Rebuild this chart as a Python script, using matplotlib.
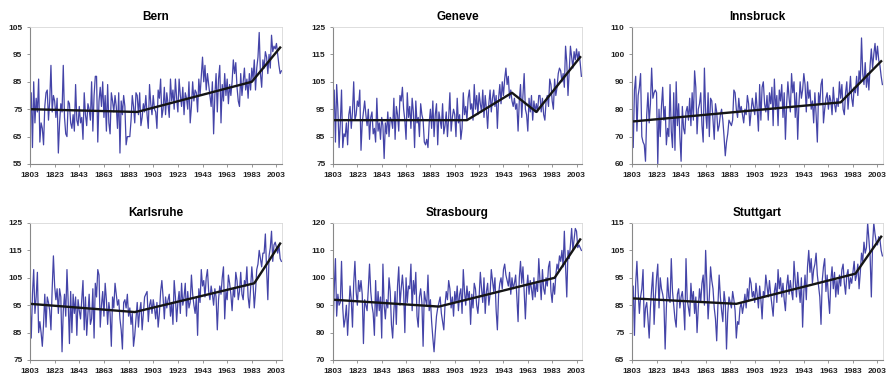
import numpy as np
import matplotlib.pyplot as plt

plt.rcParams['font.family'] = ['Liberation Sans', 'DejaVu Sans']

years = np.arange(1803, 2008)

# annual values, 1803-2007
bern = [75, 81, 61, 85, 70, 79, 74, 86, 63, 70,
        68, 62, 76, 81, 82, 71, 78, 91, 74, 80,
        78, 72, 79, 59, 70, 77, 74, 91, 72, 66,
        65, 78, 77, 70, 68, 73, 67, 84, 71, 69,
        76, 70, 72, 64, 81, 73, 69, 77, 75, 71,
        85, 67, 80, 87, 87, 63, 78, 83, 76, 85,
        72, 80, 67, 84, 70, 66, 81, 78, 74, 80,
        76, 68, 81, 59, 78, 73, 80, 76, 62, 65,
        65, 65, 71, 80, 76, 70, 81, 80, 73, 81,
        69, 72, 77, 74, 80, 73, 68, 84, 77, 73,
        80, 75, 74, 68, 82, 79, 86, 72, 75, 83,
        73, 81, 77, 72, 86, 78, 82, 75, 86, 79,
        74, 86, 80, 76, 83, 73, 81, 79, 75, 85,
        70, 76, 85, 78, 82, 81, 74, 86, 80, 87,
        94, 85, 91, 82, 88, 84, 80, 76, 85, 66,
        80, 88, 74, 86, 91, 70, 84, 78, 88, 80,
        86, 77, 84, 80, 85, 93, 88, 92, 83, 78,
        76, 88, 80, 85, 90, 82, 86, 79, 88, 82,
        90, 86, 93, 82, 90, 94, 103, 88, 83, 93,
        90, 96, 94, 88, 95, 90, 102, 96, 98, 97,
        99, 95, 91, 88, 89]

geneve = [92, 102, 83, 104, 95, 81, 90, 102, 81, 86,
          85, 90, 82, 93, 96, 88, 94, 105, 91, 93,
          98, 96, 102, 80, 90, 94, 98, 93, 89, 95,
          84, 92, 94, 86, 88, 83, 99, 87, 90, 84,
          92, 89, 77, 90, 86, 94, 85, 92, 91, 88,
          99, 84, 96, 93, 87, 100, 98, 103, 95, 91,
          84, 101, 92, 96, 88, 99, 94, 81, 98, 90,
          92, 85, 97, 93, 91, 83, 82, 84, 81, 90,
          95, 88, 98, 85, 93, 97, 82, 94, 91, 88,
          97, 86, 89, 94, 85, 92, 101, 87, 92, 95,
          93, 85, 99, 90, 93, 84, 88, 101, 93, 96,
          91, 99, 102, 95, 97, 91, 104, 95, 100, 93,
          101, 97, 94, 102, 92, 100, 95, 88, 97, 102,
          94, 99, 102, 96, 100, 88, 99, 104, 97, 105,
          100, 106, 110, 104, 107, 99, 102, 98, 96, 99,
          95, 97, 87, 98, 104, 92, 100, 108, 95, 93,
          87, 99, 94, 100, 91, 98, 94, 97, 94, 100,
          100, 94, 99, 93, 91, 98, 100, 96, 106, 104,
          98, 95, 106, 100, 103, 108, 110, 109, 105, 108,
          103, 118, 112, 100, 109, 118, 114, 110, 116, 113,
          117, 113, 116, 112, 107]

innsbruck = [80, 66, 87, 92, 72, 85, 88, 93, 70, 68,
             67, 61, 78, 86, 75, 82, 95, 84, 86, 87,
             86, 60, 80, 70, 81, 88, 76, 81, 67, 73,
             70, 89, 72, 66, 86, 65, 90, 74, 82, 70,
             61, 81, 73, 71, 79, 81, 76, 84, 74, 86,
             76, 94, 88, 71, 80, 82, 86, 74, 68, 95,
             79, 73, 86, 70, 84, 83, 76, 69, 82, 79,
             72, 74, 78, 80, 76, 70, 63, 68, 71, 76,
             75, 74, 76, 87, 86, 80, 77, 84, 79, 81,
             78, 75, 80, 78, 85, 82, 74, 79, 84, 81,
             78, 86, 80, 72, 89, 76, 88, 90, 82, 79,
             85, 76, 86, 82, 88, 74, 91, 80, 85, 74,
             87, 83, 89, 77, 86, 69, 82, 90, 84, 79,
             93, 86, 90, 77, 86, 69, 82, 90, 84, 87,
             93, 89, 79, 90, 84, 87, 80, 83, 75, 86,
             78, 68, 86, 82, 89, 91, 75, 80, 84, 86,
             80, 85, 83, 78, 88, 82, 79, 84, 81, 90,
             84, 89, 80, 78, 86, 90, 80, 86, 92, 84,
             81, 88, 86, 92, 85, 94, 90, 106, 93, 89,
             97, 88, 93, 87, 96, 102, 95, 100, 104, 98,
             103, 98, 96, 92, 89]

karlsruhe = [96, 83, 99, 108, 92, 98, 107, 85, 89, 85,
             80, 88, 99, 87, 98, 96, 93, 86, 101, 113,
             102, 97, 101, 92, 101, 98, 78, 93, 99, 91,
             108, 96, 81, 100, 85, 99, 92, 98, 84, 97,
             93, 90, 97, 104, 86, 98, 84, 92, 99, 88,
             90, 101, 83, 103, 98, 108, 106, 87, 95, 100,
             91, 103, 97, 88, 96, 92, 80, 98, 94, 103,
             99, 95, 97, 90, 86, 79, 96, 97, 94, 99,
             91, 94, 88, 92, 80, 84, 90, 96, 87, 93,
             96, 86, 92, 98, 99, 100, 89, 95, 97, 92,
             97, 94, 90, 96, 87, 92, 100, 104, 98, 90,
             98, 94, 97, 99, 91, 96, 88, 104, 98, 89,
             96, 100, 92, 103, 95, 98, 103, 91, 100, 94,
             96, 106, 99, 95, 92, 98, 84, 101, 96, 108,
             102, 104, 98, 105, 108, 100, 97, 102, 99, 95,
             101, 98, 86, 97, 102, 99, 105, 109, 90, 100,
             97, 106, 103, 99, 93, 101, 98, 107, 104, 97,
             100, 107, 99, 97, 104, 102, 109, 98, 94, 101,
             109, 103, 94, 100, 108, 110, 115, 112, 109, 114,
             114, 121, 108, 97, 113, 116, 122, 111, 117, 118,
             116, 114, 117, 112, 111]

strasbourg = [80, 96, 107, 86, 94, 90, 91, 106, 89, 82,
              85, 90, 79, 88, 97, 92, 82, 98, 106, 95,
              90, 99, 95, 99, 94, 76, 92, 90, 88, 96,
              105, 95, 90, 87, 79, 99, 86, 95, 88, 93,
              78, 105, 90, 85, 92, 89, 100, 95, 83, 78,
              88, 95, 83, 97, 104, 90, 96, 101, 95, 80,
              100, 91, 97, 96, 105, 88, 99, 94, 102, 86,
              82, 93, 96, 91, 75, 95, 92, 90, 101, 88,
              92, 84, 78, 73, 80, 86, 89, 91, 93, 87,
              84, 81, 90, 95, 92, 99, 96, 89, 93, 86,
              95, 91, 97, 88, 94, 96, 87, 103, 95, 90,
              97, 92, 95, 83, 94, 89, 98, 96, 90, 87,
              93, 102, 96, 91, 100, 87, 95, 98, 90, 94,
              103, 99, 95, 100, 88, 81, 94, 98, 100, 96,
              103, 105, 101, 99, 97, 102, 94, 100, 96, 98,
              101, 93, 84, 100, 106, 98, 104, 95, 85, 96,
              101, 94, 99, 96, 92, 100, 93, 98, 95, 107,
              99, 92, 103, 96, 94, 100, 97, 104, 106, 95,
              91, 98, 94, 101, 105, 103, 108, 106, 110, 104,
              117, 104, 93, 110, 107, 112, 118, 110, 114, 118,
              117, 111, 112, 111, 110]

stuttgart = [87, 92, 74, 93, 101, 90, 82, 88, 91, 98,
             77, 84, 86, 80, 73, 84, 91, 97, 78, 88,
             95, 100, 84, 95, 91, 89, 86, 69, 84, 95,
             88, 86, 102, 90, 85, 80, 77, 89, 91, 84,
             88, 90, 85, 76, 102, 87, 84, 81, 93, 86,
             90, 82, 88, 75, 84, 91, 86, 93, 96, 85,
             105, 92, 80, 88, 99, 94, 91, 84, 80, 72,
             85, 96, 88, 83, 79, 90, 86, 69, 82, 88,
             86, 84, 90, 87, 83, 73, 79, 78, 84, 86,
             82, 85, 89, 84, 91, 87, 95, 93, 88, 90,
             86, 93, 89, 84, 92, 87, 80, 90, 88, 96,
             92, 88, 94, 89, 85, 81, 90, 93, 86, 98,
             91, 95, 88, 93, 87, 83, 92, 96, 89, 94,
             90, 87, 101, 94, 88, 97, 91, 86, 95, 77,
             90, 96, 87, 99, 105, 97, 102, 93, 98, 100,
             104, 96, 92, 88, 78, 94, 99, 102, 90, 96,
             88, 82, 94, 99, 91, 97, 88, 94, 89, 96,
             92, 98, 100, 93, 89, 96, 98, 91, 95, 93,
             97, 101, 94, 96, 100, 91, 97, 104, 101, 108,
             104, 106, 115, 109, 103, 88, 107, 115, 111, 108,
             107, 110, 109, 105, 103]

# piecewise trend lines (break years and values)
bern_trend = ([1803, 1890, 1983, 2006], [75, 74, 85, 97.5])
geneve_trend = ([1803, 1913, 1950, 1970, 2006], [91, 91, 101, 94, 114])
innsbruck_trend = ([1803, 1973, 2006], [75.5, 82.5, 97.5])
karlsruhe_trend = ([1803, 1888, 1985, 2006], [95.5, 92.5, 103, 117.5])
strasbourg_trend = ([1803, 1890, 1985, 2006], [92, 89.5, 100, 114])
stuttgart_trend = ([1803, 1888, 1985, 2006], [87.5, 85.5, 96.5, 110])

names = ['Bern', 'Geneve', 'Innsbruck', 'Karlsruhe', 'Strasbourg', 'Stuttgart']
series = [bern, geneve, innsbruck, karlsruhe, strasbourg, stuttgart]
trends = [bern_trend, geneve_trend, innsbruck_trend,
          karlsruhe_trend, strasbourg_trend, stuttgart_trend]
ylims = [(55, 105), (75, 125), (60, 110), (75, 125), (70, 120), (65, 115)]

lefts = [30, 333, 632]
widths = [252, 249, 251]
tops = [27, 223]
height = 137

fig = plt.figure(figsize=(8.91, 3.8), dpi=100)

for i in range(6):
    r, c = divmod(i, 3)
    ax = fig.add_axes([lefts[c] / 891, 1 - (tops[r] + height) / 380,
                       widths[c] / 891, height / 380])
    ax.plot(years, series[i], color='#4444a8', lw=0.9)
    ax.plot(trends[i][0], trends[i][1], color='#151515', lw=1.7)
    ax.set_xlim(1803, 2007.5)
    ax.set_ylim(*ylims[i])
    ax.set_xticks(np.arange(1803, 2004, 20))
    ax.set_yticks(np.arange(ylims[i][0], ylims[i][1] + 1, 10))
    ax.set_title(names[i], fontsize=8.5, fontweight='bold', pad=5)
    ax.tick_params(labelsize=6, length=2.5, width=0.6, color='#888888',
                   pad=3, labelcolor='#222222')
    for lab in ax.get_xticklabels() + ax.get_yticklabels():
        lab.set_fontweight('bold')
    for s in ['left', 'bottom']:
        ax.spines[s].set_color('#888888')
        ax.spines[s].set_linewidth(0.8)
    for s in ['top', 'right']:
        ax.spines[s].set_color('#d8d8d8')
        ax.spines[s].set_linewidth(0.6)

fig.savefig('out.png', dpi=100)
